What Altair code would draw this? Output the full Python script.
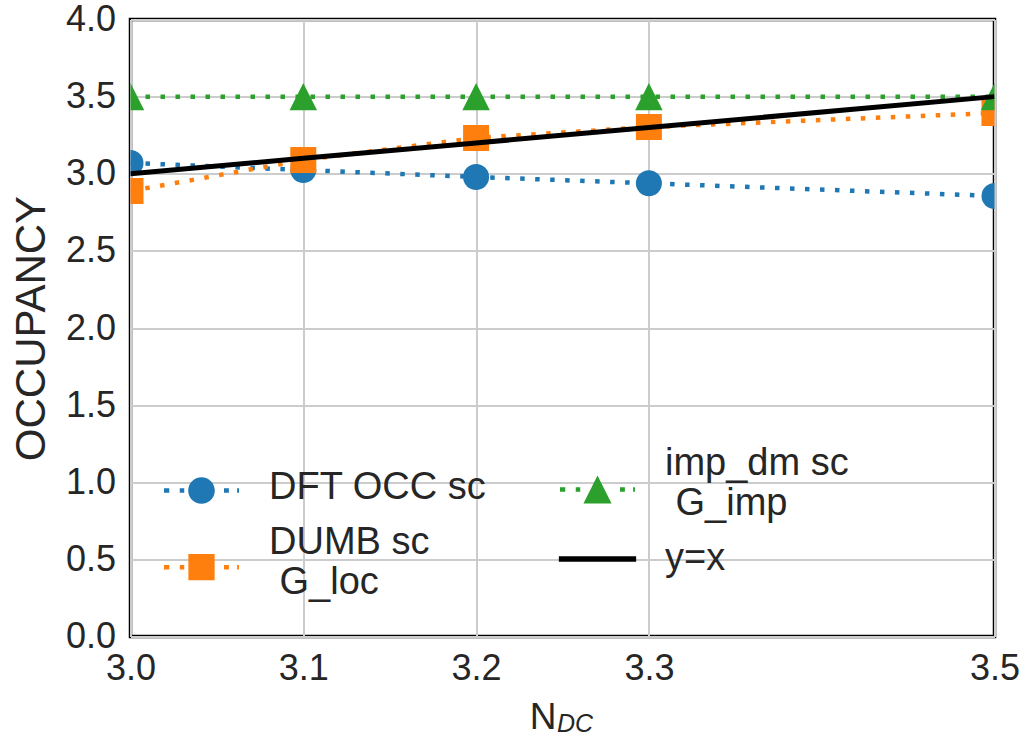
import altair as alt
import pandas as pd

# ---- data ----
x_vals = [3.0, 3.1, 3.2, 3.3, 3.5]
dft_occ = [3.07, 3.024, 2.979, 2.938, 2.856]
dumb_loc = [2.888, 3.089, 3.232, 3.303, 3.394]
imp_dm = [3.5, 3.5, 3.5, 3.5, 3.5]
y_eq_x = [3.0, 3.1, 3.2, 3.3, 3.5]

keys = ["dft", "dumb", "imp", "yx"]
labels = ["DFT OCC sc", "DUMB sc\n\u200b\u00a0G_loc", "imp_dm sc\n\u200b\u00a0G_imp", "y=x"]
colors = ["#1f77b4", "#ff7f0e", "#2ca02c", "#000000"]
x_ticks = [3.0, 3.1, 3.2, 3.3, 3.5]
y_ticks = [0.0, 0.5, 1.0, 1.5, 2.0, 2.5, 3.0, 3.5, 4.0]

series_vals = [dft_occ, dumb_loc, imp_dm, y_eq_x]
rows = []
for k, lab, vals in zip(keys, labels, series_vals):
    for xv, yv in zip(x_vals, vals):
        rows.append({"N": xv, "occ": yv, "key": k, "label": lab})
df = pd.DataFrame(rows)

FONT = "Liberation Sans"
TXT = "#262626"


# legend symbol paths (dotted line + marker), unit = half symbol width
def dots(dy):
    segs = [(-1.0, -0.86), (-0.58, -0.46), (0.6, 0.73), (0.95, 1.0)]
    h = 0.062
    return " ".join(f"M{a},{dy-h}H{b}V{dy+h}H{a}Z" for a, b in segs) + " "


def leg_circle(dy):
    r = 0.355
    return dots(dy) + f"M{-r},{dy}A{r},{r},0,1,0,{r},{dy}A{r},{r},0,1,0,{-r},{dy}Z"


def leg_square(dy):
    r = 0.35
    return dots(dy) + f"M{-r},{dy-r}H{r}V{dy+r}H{-r}Z"


def leg_tri(dy):
    r = 0.375
    return dots(dy) + f"M0,{dy-r}L{r},{dy+r}L{-r},{dy+r}Z"


def leg_line(dy):
    h = 0.075
    return f"M-1.03,{dy-h}H1.03V{dy+h}H-1.03Z"


legend_specs = {
    "dft": dict(path=leg_circle(0.067), lx=33.5, ly=431),
    "dumb": dict(path=leg_square(0.64), lx=33.5, ly=486.2),
    "imp": dict(path=leg_tri(0.688), lx=429.5, ly=406.7),
    "yx": dict(path=leg_line(0.0), lx=429.5, ly=502),
}

xs = alt.Scale(domain=[3.0, 3.5], nice=False, zero=False)
ys = alt.Scale(domain=[0, 4], nice=False)

X = alt.X("N:Q", scale=xs,
          axis=alt.Axis(values=x_ticks, format=".1f", title="N",
                        titleX=412, titleY=91.5, titleAlign="center",
                        titleBaseline="alphabetic", titleFontSize=37,
                        titleFontWeight="normal"))
Y = alt.Y("occ:Q", scale=ys,
          axis=alt.Axis(values=y_ticks, format=".1f", title="OCCUPANCY",
                        titleX=-86, titleY=308.5, titleAlign="center",
                        titleBaseline="alphabetic", titleAngle=270,
                        titleFontSize=42, titleFontWeight="normal"))

base = alt.Chart(df)

marker_shapes = {"dft": "circle", "dumb": "square",
                 "imp": "M0,-1L1,1L-1,1Z"}
marker_sizes = {"dft": 676, "dumb": 676, "imp": 756}

layers = []
for k, c in zip(keys, colors):
    sub = base.transform_filter(alt.datum.key == k)
    if k == "yx":
        layers.append(sub.mark_line(color=c, strokeWidth=5, clip=True).encode(x=X, y=Y))
    else:
        layers.append(sub.mark_line(color=c, strokeWidth=4.5, strokeDash=[4.5, 10.5],
                                    strokeCap="butt", clip=True).encode(x=X, y=Y))
        layers.append(sub.mark_point(shape=marker_shapes[k], size=marker_sizes[k],
                                     filled=True, opacity=1, color=c, clip=True)
                      .encode(x=X, y=Y))

# one legend per series (independent colour scales), placed like the reference
legend_layers = []
for k, lab, c in zip(keys, labels, colors):
    spec = legend_specs[k]
    leg = alt.Legend(title=None, orient="none", legendX=spec["lx"], legendY=spec["ly"],
                     symbolType=spec["path"], symbolSize=5625, symbolStrokeWidth=0,
                     labelExpr="split(datum.label, '\\n')",
                     labelFont=FONT, labelFontSize=38, labelColor=TXT,
                     labelOffset=30, labelLimit=500, padding=0, symbolOpacity=1)
    legend_layers.append(
        base.transform_filter(alt.datum.key == k).transform_filter("false")
        .mark_point(filled=True, opacity=1, shape=spec["path"])
        .encode(x=X, y=Y,
                color=alt.Color("label:N", scale=alt.Scale(domain=[lab], range=[c]), legend=leg))
    )

sub_df = pd.DataFrame({"t": ["DC"]})
sub_text = alt.Chart(sub_df).mark_text(font=FONT, fontSize=25, fontStyle="italic",
                                        align="left", baseline="alphabetic",
                                        color=TXT).encode(
    x=alt.value(426.5), y=alt.value(712.5), text="t:N")

chart = alt.layer(*layers, *legend_layers, sub_text).resolve_scale(
    color="independent"
).resolve_legend(
    color="independent"
).properties(
    width=864, height=617,
    autosize=alt.AutoSizeParams(type="none"),
    padding={"left": 130.5, "top": 19.5, "right": 30.5, "bottom": 106.5},
    background="white",
).configure_view(
    stroke="black", strokeWidth=3.5
).configure_axis(
    grid=True, gridColor="#cccccc", gridWidth=2, domain=False, ticks=False,
    labelFont=FONT, labelFontSize=36, labelColor=TXT, labelPadding=15,
    titleFont=FONT, titleColor=TXT, labelFlush=False, labelOverlap=False
)

chart.save("out.html", embed_options={"renderer": "svg", "actions": False})
